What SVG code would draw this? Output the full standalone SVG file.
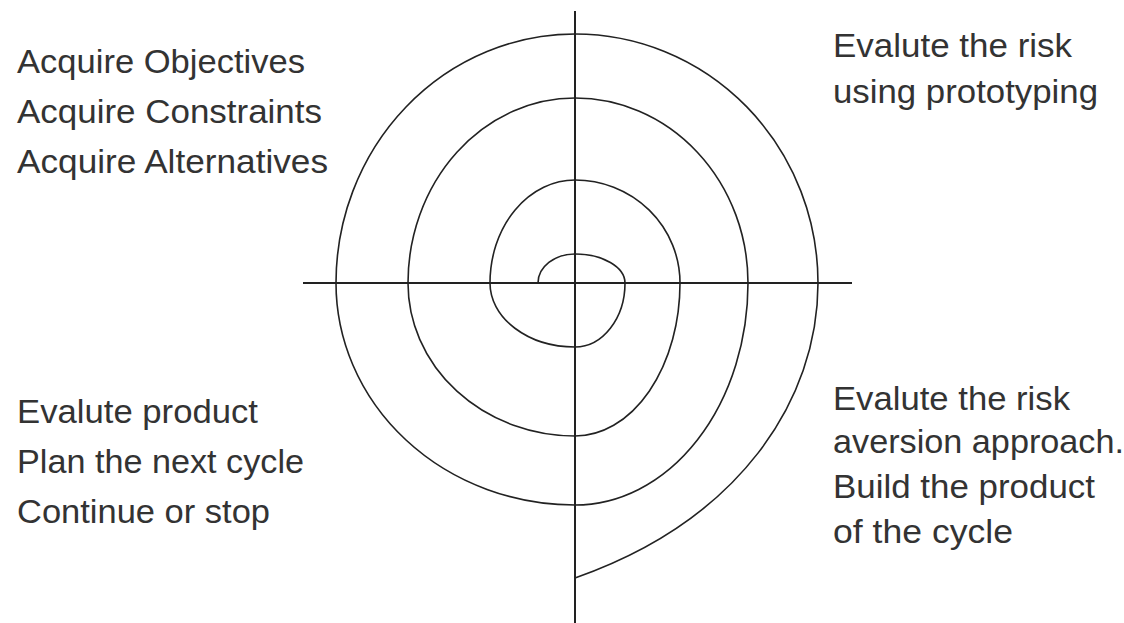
<svg xmlns="http://www.w3.org/2000/svg" width="1124" height="623" viewBox="0 0 1124 623">
<style>
text{font-family:"Liberation Sans",Arial,sans-serif;font-size:33px;fill:#333}
.ax{stroke:#222;stroke-width:2;fill:none}
.sp{stroke:#222;stroke-width:1.6;fill:none}
</style>
<rect width="1124" height="623" fill="#fff"/>
<g id="connectors">
<line class="ax" x1="575" y1="11" x2="575" y2="623"/>
<line class="ax" x1="303" y1="283" x2="852" y2="283"/>
<path id="spiral" class="sp" d="M538,283 A37,29 0 0 1 575,254 A50,29 0 0 1 625,283 A50,64 0 0 1 575,347 A85,64 0 0 1 490,283 A85,103 0 0 1 575,180 A105,103 0 0 1 680,283 A105,153 0 0 1 575,436 A167,153 0 0 1 408,283 A167,185 0 0 1 575,98 A173,185 0 0 1 748,283 A173,222 0 0 1 575,505 A239,222 0 0 1 336,283 A239,249 0 0 1 575,34 A243,249 0 0 1 818,283 C818,400 740,520 575,578"/>
</g>
<g id="q-top-left">
<text x="17" y="73" textLength="288" lengthAdjust="spacingAndGlyphs">Acquire Objectives</text>
<text x="17" y="123" textLength="305" lengthAdjust="spacingAndGlyphs">Acquire Constraints</text>
<text x="17" y="173" textLength="311" lengthAdjust="spacingAndGlyphs">Acquire Alternatives</text>
</g>
<g id="q-top-right">
<text x="833" y="57" textLength="239" lengthAdjust="spacingAndGlyphs">Evalute the risk</text>
<text x="833" y="103" textLength="265" lengthAdjust="spacingAndGlyphs">using prototyping</text>
</g>
<g id="q-bottom-left">
<text x="17" y="423" textLength="241" lengthAdjust="spacingAndGlyphs">Evalute product</text>
<text x="17" y="473" textLength="287" lengthAdjust="spacingAndGlyphs">Plan the next cycle</text>
<text x="17" y="523" textLength="253" lengthAdjust="spacingAndGlyphs">Continue or stop</text>
</g>
<g id="q-bottom-right">
<text x="833" y="410" textLength="237" lengthAdjust="spacingAndGlyphs">Evalute the risk</text>
<text x="833" y="453" textLength="291" lengthAdjust="spacingAndGlyphs">aversion approach.</text>
<text x="833" y="498" textLength="262" lengthAdjust="spacingAndGlyphs">Build the product</text>
<text x="833" y="543" textLength="180" lengthAdjust="spacingAndGlyphs">of the cycle</text>
</g>
</svg>
